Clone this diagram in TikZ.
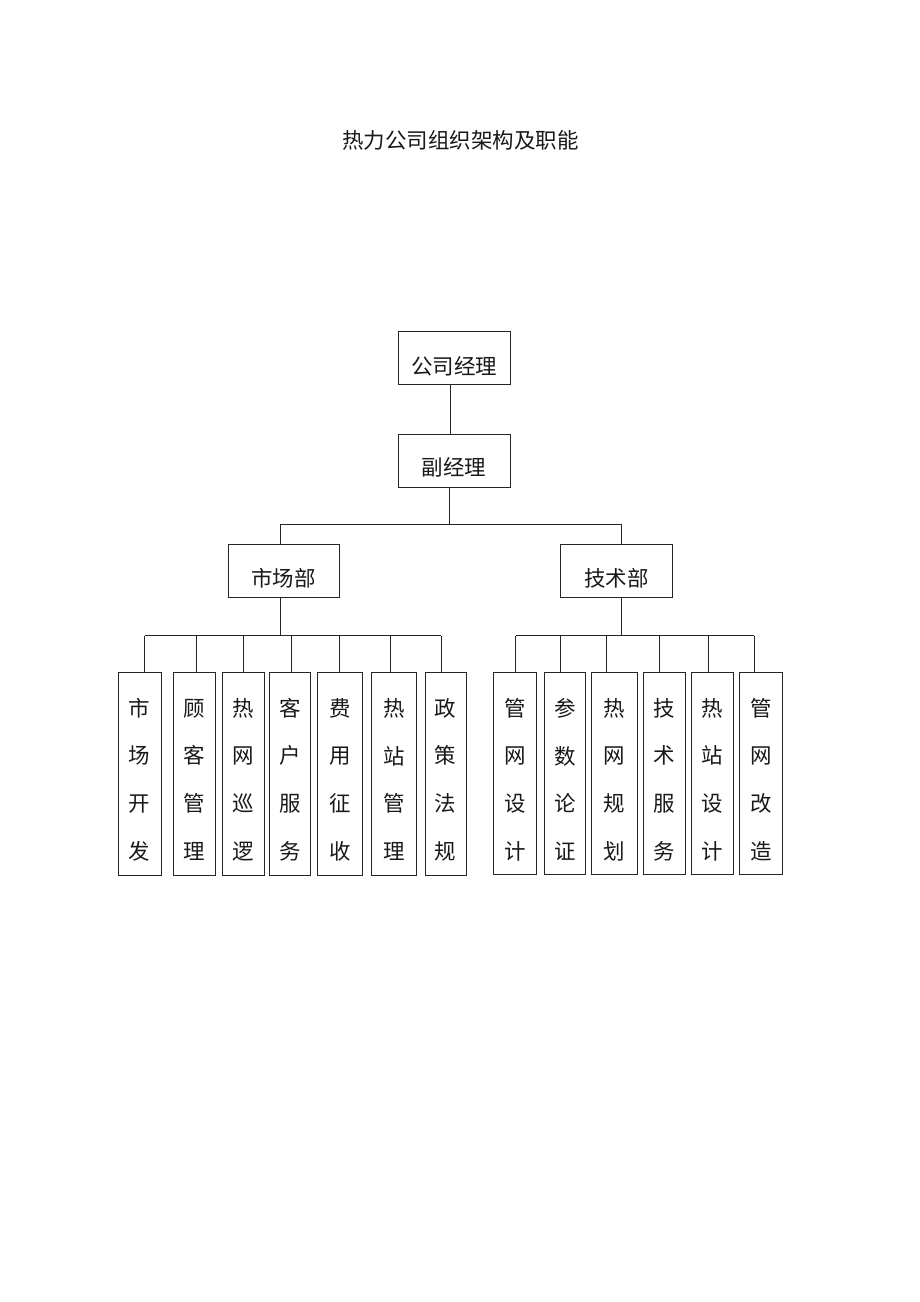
\documentclass[tikz,border=0pt]{standalone}
\usepackage{fontspec}
\setmainfont{Noto Sans CJK SC}
\usetikzlibrary{fit}
\begin{document}
\begin{tikzpicture}[x=0.75pt,y=-0.75pt]
\tikzset{
  box/.style={draw=black!85, line width=0.75pt, rectangle, inner sep=0pt},
  lbl/.style={font=\fontsize{16.1}{19}\selectfont, inner sep=0pt, text=black!90},
  vlbl/.style={font=\fontsize{16.1}{35.8}\selectfont, inner sep=0pt, align=center, text=black!90},
  conn/.style={draw=black!85, line width=0.75pt}
}
\useasboundingbox (0,0) rectangle (920,1302);
\fill[white] (0,0) rectangle (920,1302);

% title
\node[lbl] (title) at (460.5,140.7) {热力公司组织架构及职能};

% top boxes
\node[box, fit={(398.3,331)(510,384.3)}] (gm) {};
\node[lbl] at ([yshift=-6.5pt]gm.center) {公司经理};
\node[box, fit={(398.3,434.3)(510,487.7)}] (fu) {};
\node[lbl] at ([yshift=-5pt]fu.center) {副经理};
\node[box, fit={(228,544)(339.3,597.3)}] (mkt) {};
\node[lbl] at ([yshift=-5.5pt]mkt.center) {市场部};
\node[box, fit={(560.7,544)(672,597.3)}] (tech) {};
\node[lbl] at ([yshift=-5.5pt]tech.center) {技术部};

% connectors top
\coordinate (gx) at (450.7,0);
\draw[conn] (gm.south -| gx) -- (fu.north -| gx);
\coordinate (fbar) at (449.7,524.5);
\coordinate (mbarL) at (280.3,524.5);
\coordinate (tbarR) at (621,524.5);
\draw[conn] (fu.south -| fbar) -- (fbar);
\draw[conn] (mkt.north -| mbarL) -- (mbarL) -- (tbarR) -- (tech.north -| tbarR);

% market sub
\coordinate (mdrop) at (280.3,635.7);
\draw[conn] (mkt.south -| mdrop) -- (mdrop);
\coordinate (mL) at (144.7,635.7);
\coordinate (mR) at (441.3,635.7);
\draw[conn] (mL) -- (mR);

\foreach \i/\xa/\xb/\dx/\t in {
  1/118.3/161/144.7/{市\\场\\开\\发},
  2/173.7/215.7/196/{顾\\客\\管\\理},
  3/222.3/264.3/243.7/{热\\网\\巡\\逻},
  4/269.7/310.3/291/{客\\户\\服\\务},
  5/317.3/362.3/339.3/{费\\用\\征\\收},
  6/371.7/416/390.7/{热\\站\\管\\理},
  7/425.3/466/441.3/{政\\策\\法\\规}}{
  \node[box, fit={(\xa,672.3)(\xb,875)}] (m\i) {};
  \node[vlbl] at ([yshift=-4.4pt]m\i.center) {\t};
  \coordinate (md\i) at (\dx,635.7);
  \draw[conn] (md\i) -- (m\i.north -| md\i);
}

% tech sub
\coordinate (tdrop) at (621,635.7);
\draw[conn] (tech.south -| tdrop) -- (tdrop);
\coordinate (tL) at (515.7,635.7);
\coordinate (tR) at (754,635.7);
\draw[conn] (tL) -- (tR);

\foreach \i/\xa/\xb/\dx/\t in {
  1/493.7/536.3/515.7/{管\\网\\设\\计},
  2/544.7/585.3/560.7/{参\\数\\论\\证},
  3/591/637.3/606/{热\\网\\规\\划},
  4/643/685/659.3/{技\\术\\服\\务},
  5/691.7/733.3/708/{热\\站\\设\\计},
  6/739.3/782.3/754/{管\\网\\改\\造}}{
  \node[box, fit={(\xa,672.5)(\xb,874.8)}] (t\i) {};
  \node[vlbl] at ([yshift=-4.4pt]t\i.center) {\t};
  \coordinate (td\i) at (\dx,635.7);
  \draw[conn] (td\i) -- (t\i.north -| td\i);
}
\end{tikzpicture}
\end{document}
